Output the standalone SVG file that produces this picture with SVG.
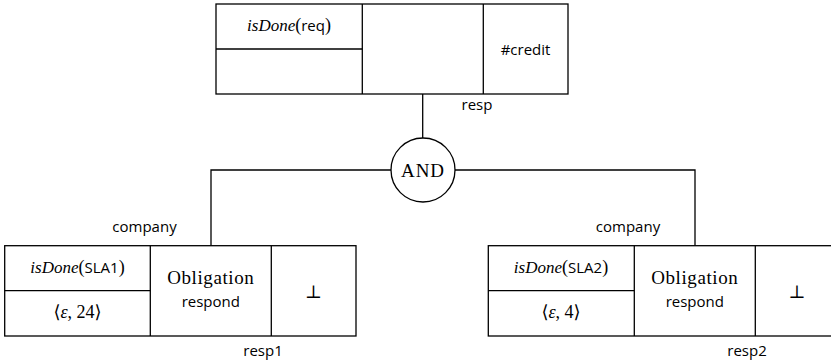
<svg xmlns="http://www.w3.org/2000/svg" width="831" height="364" viewBox="0 0 831 364">
<style>
.b{fill:#fff;stroke:#000;stroke-width:1.3}
.l{fill:none;stroke:#000;stroke-width:1.3}
text{fill:#000;text-anchor:middle}
.it{font-family:"Liberation Serif",serif;font-style:italic;font-size:17px}
.rm{font-family:"Liberation Serif",serif;font-size:18px}
.sf{font-family:"Open Sans",sans-serif;font-size:15px}
.big{font-family:"Liberation Serif",serif;font-size:19px;letter-spacing:0.6px}
.math{font-family:"Liberation Serif","DejaVu Serif",serif;font-size:18px}
</style>
<g id="connectors">
<line class="l" x1="422.7" y1="94" x2="422.7" y2="138"/>
<polyline class="l" points="391,170 211,170 211,245.7"/>
<polyline class="l" points="455,170 695,170 695,245.7"/>
</g>
<g id="top">
<rect class="b" x="216" y="4" width="352" height="90"/>
<line class="l" x1="362.3" y1="4" x2="362.3" y2="94"/>
<line class="l" x1="483.3" y1="4" x2="483.3" y2="94"/>
<line class="l" x1="216" y1="49" x2="362.3" y2="49"/>
<text x="289" y="31"><tspan class="it">isDone</tspan><tspan class="rm">(</tspan><tspan class="sf">req</tspan><tspan class="rm">)</tspan></text>
<text class="sf" x="525.5" y="55">#credit</text>
<text class="sf" x="477" y="110">resp</text>
</g>
<g id="and">
<circle class="b" cx="423" cy="170" r="32"/>
<text class="big" x="423" y="176.5" style="letter-spacing:1px">AND</text>
</g>
<g id="left">
<rect class="b" x="4.7" y="245.7" width="351.3" height="90.3"/>
<line class="l" x1="150.3" y1="245.7" x2="150.3" y2="336"/>
<line class="l" x1="271.3" y1="245.7" x2="271.3" y2="336"/>
<line class="l" x1="4.7" y1="290.7" x2="150.3" y2="290.7"/>
<text x="77.5" y="273"><tspan class="it">isDone</tspan><tspan class="rm">(</tspan><tspan class="sf">SLA1</tspan><tspan class="rm">)</tspan></text>
<text class="math" x="77.5" y="318">⟨<tspan font-style="italic">ε</tspan>, 24⟩</text>
<text class="big" x="210.8" y="284">Obligation</text>
<text class="sf" x="210.8" y="307">respond</text>
<text class="math" x="313.5" y="298">⊥</text>
<text class="sf" x="144.5" y="232">company</text>
<text class="sf" x="263" y="356">resp1</text>
</g>
<g id="right">
<rect class="b" x="488.3" y="245.7" width="351.3" height="90.3"/>
<line class="l" x1="634.3" y1="245.7" x2="634.3" y2="336"/>
<line class="l" x1="755.3" y1="245.7" x2="755.3" y2="336"/>
<line class="l" x1="488.3" y1="290.7" x2="634.3" y2="290.7"/>
<text x="561" y="273"><tspan class="it">isDone</tspan><tspan class="rm">(</tspan><tspan class="sf">SLA2</tspan><tspan class="rm">)</tspan></text>
<text class="math" x="561" y="318">⟨<tspan font-style="italic">ε</tspan>, 4⟩</text>
<text class="big" x="694.8" y="284">Obligation</text>
<text class="sf" x="694.8" y="307">respond</text>
<text class="math" x="797" y="298">⊥</text>
<text class="sf" x="628" y="232">company</text>
<text class="sf" x="747" y="356">resp2</text>
</g>
</svg>
